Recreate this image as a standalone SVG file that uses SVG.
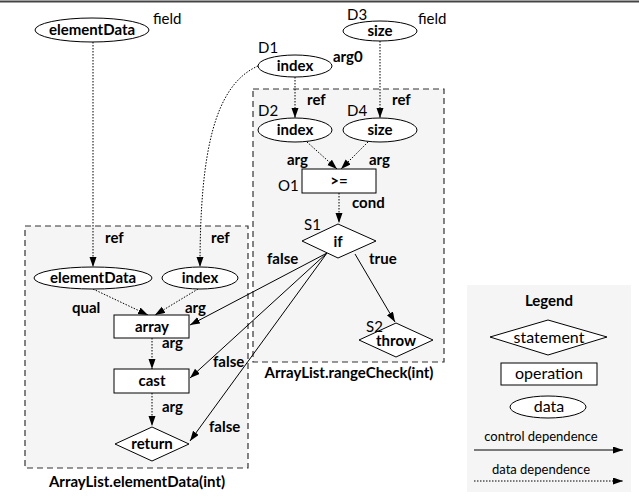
<svg xmlns="http://www.w3.org/2000/svg" width="639" height="498" viewBox="0 0 639 498">
<style>
text{font-family:Lato,"Open Sans","DejaVu Sans",sans-serif;fill:#000}
.b{font-weight:bold;font-size:15px}
.r{font-size:15px}
.s{font-size:13px}
.l{font-size:16px}
.c{text-anchor:middle}
.n{fill:#fff;stroke:#000;stroke-width:1}
.box{fill:#f5f5f5;stroke:#333;stroke-width:1.2;stroke-dasharray:6,4}
.ctl{fill:none;stroke:#000;stroke-width:1;marker-end:url(#ah)}
.dat{fill:none;stroke:#000;stroke-width:1;stroke-dasharray:1.5,1.5;marker-end:url(#ah)}
</style>
<defs>
<marker id="ah" markerUnits="userSpaceOnUse" markerWidth="11" markerHeight="8" refX="10" refY="3.5" orient="auto">
<path d="M0,0 L10,3.5 L0,7 z" fill="#000"/>
</marker>
</defs>
<rect width="639" height="498" fill="#fff"/>
<line x1="0" y1="1.5" x2="639" y2="1.5" stroke="#444" stroke-width="2"/>

<g id="box-elementData">
<rect class="box" x="25" y="226" width="223" height="242"/>
<text class="b c" x="137" y="487">ArrayList.elementData(int)</text>
</g>
<g id="box-rangeCheck">
<rect class="box" x="253" y="89" width="191" height="273"/>
<text class="b c" x="349" y="378">ArrayList.rangeCheck(int)</text>
</g>
<g id="legend">
<rect x="467" y="285" width="164" height="207" fill="#f5f5f5"/>
<text class="b c" x="549" y="306">Legend</text>
<polygon class="n" points="490,337 548,320 607,337 548,355"/>
<text class="l c" x="549" y="343">statement</text>
<rect class="n" x="501" y="363" width="96" height="22"/>
<text class="l c" x="549" y="379">operation</text>
<ellipse class="n" cx="548" cy="407" rx="38" ry="11"/>
<text class="l c" x="549" y="412">data</text>
<text class="s c" x="541" y="441">control dependence</text>
<line class="ctl" x1="474" y1="450" x2="623" y2="450"/>
<text class="s c" x="541" y="474">data dependence</text>
<line class="dat" x1="474" y1="481" x2="623" y2="481"/>
</g>

<g id="connectors">
<line class="dat" x1="93" y1="42" x2="93" y2="267"/>
<path class="dat" d="M258,66 C215,85 200,150 200,267"/>
<line class="dat" x1="295" y1="77" x2="295" y2="118"/>
<line class="dat" x1="380" y1="41" x2="380" y2="118"/>
<line class="dat" x1="307" y1="142" x2="337" y2="169"/>
<line class="dat" x1="368" y1="142" x2="341" y2="169"/>
<line class="dat" x1="339" y1="193" x2="339" y2="223"/>
<line class="dat" x1="93" y1="289" x2="148" y2="315"/>
<line class="dat" x1="198" y1="289" x2="155" y2="315"/>
<line class="dat" x1="152" y1="338" x2="152" y2="369"/>
<line class="dat" x1="152" y1="393" x2="152" y2="426"/>
<line class="ctl" x1="327" y1="253" x2="190" y2="325"/>
<line class="ctl" x1="327" y1="253" x2="190" y2="378"/>
<line class="ctl" x1="327" y1="253" x2="190" y2="441"/>
<line class="ctl" x1="355" y1="254" x2="395" y2="322"/>
</g>

<g id="label-texts">
<text class="b" x="105" y="243">ref</text>
<text class="b" x="211" y="243">ref</text>
<text class="b" x="307" y="105">ref</text>
<text class="b" x="392" y="105">ref</text>
<text class="b" x="287" y="165">arg</text>
<text class="b" x="369" y="165">arg</text>
<text class="b" x="352" y="208">cond</text>
<text class="b" x="72" y="313">qual</text>
<text class="b" x="185" y="313">arg</text>
<text class="b" x="162" y="348">arg</text>
<text class="b" x="162" y="412">arg</text>
<text class="b" x="267" y="264">false</text>
<text class="b" x="369" y="264">true</text>
<text class="b" x="213" y="367">false</text>
<text class="b" x="209" y="432">false</text>
<text class="b" x="333" y="62">arg0</text>
</g>

<g id="D0-elementData-field">
<ellipse class="n" cx="92" cy="30" rx="57" ry="12"/>
<text class="b c" x="92" y="35">elementData</text>
<text class="r" x="153" y="24">field</text>
</g>
<g id="D1-index">
<ellipse class="n" cx="295" cy="66" rx="37" ry="11"/>
<text class="b c" x="295" y="71">index</text>
<text class="r" x="258" y="53">D1</text>
</g>
<g id="D3-size">
<ellipse class="n" cx="380" cy="31" rx="37" ry="10"/>
<text class="b c" x="380" y="36">size</text>
<text class="r" x="347" y="20">D3</text>
<text class="r" x="418" y="24">field</text>
</g>
<g id="D2-index">
<ellipse class="n" cx="295" cy="130" rx="37" ry="12"/>
<text class="b c" x="295" y="135">index</text>
<text class="r" x="258" y="116">D2</text>
</g>
<g id="D4-size">
<ellipse class="n" cx="380" cy="130" rx="37" ry="12"/>
<text class="b c" x="380" y="135">size</text>
<text class="r" x="347" y="116">D4</text>
</g>
<g id="O1-ge">
<rect class="n" x="302" y="169" width="74" height="24"/>
<text class="b c" x="339" y="186">&gt;=</text>
<text class="r" x="278" y="191">O1</text>
</g>
<g id="S1-if">
<polygon class="n" points="302,241 338,224 376,241 338,258"/>
<text class="b c" x="338" y="247">if</text>
<text class="r" x="304" y="230">S1</text>
</g>
<g id="S2-throw">
<polygon class="n" points="359,340 396,323 433,340 396,357"/>
<text class="b c" x="396" y="346">throw</text>
<text class="r" x="366" y="332">S2</text>
</g>
<g id="elementData-ref">
<ellipse class="n" cx="93" cy="278" rx="59" ry="11"/>
<text class="b c" x="93" y="283">elementData</text>
</g>
<g id="index-ref">
<ellipse class="n" cx="200" cy="278" rx="38" ry="11"/>
<text class="b c" x="200" y="283">index</text>
</g>
<g id="array">
<rect class="n" x="114" y="315" width="75" height="23"/>
<text class="b c" x="152" y="332">array</text>
</g>
<g id="cast">
<rect class="n" x="114" y="369" width="75" height="24"/>
<text class="b c" x="152" y="386">cast</text>
</g>
<g id="return">
<polygon class="n" points="115,444 152,427 189,444 152,461"/>
<text class="b c" x="152" y="449">return</text>
</g>
</svg>
